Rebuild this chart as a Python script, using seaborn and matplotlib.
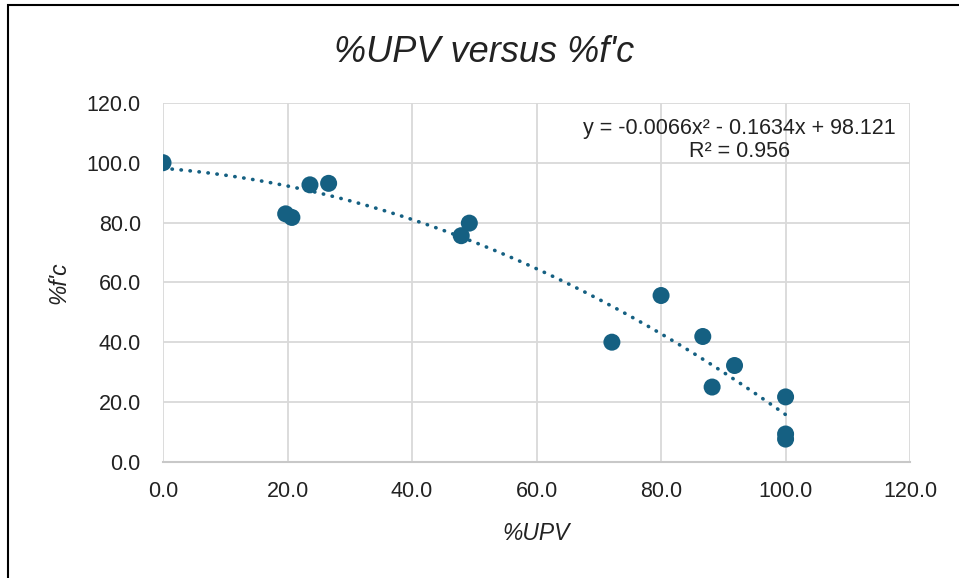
import numpy as np
import pandas as pd
import seaborn as sns
import matplotlib.pyplot as plt
from matplotlib.patches import Rectangle

# values
upv = [0.0, 19.7, 20.7, 23.6, 26.6, 47.9, 49.2, 72.1, 80.0, 86.7, 88.2, 91.8, 100.0, 100.0, 100.0]
fc = [100.0, 82.9, 81.7, 92.6, 93.1, 75.6, 79.8, 40.0, 55.6, 41.9, 25.0, 32.2, 21.7, 9.3, 7.6]

# quadratic trendline as printed on the chart
coef = [-0.0066, -0.1634, 98.121]
r2 = 0.956
ticks = [0, 20, 40, 60, 80, 100, 120]

blue = '#156082'
grid = '#d9d9d9'

sns.set_theme(style='whitegrid')
plt.rcParams['font.family'] = ['Liberation Sans', 'DejaVu Sans']

df = pd.DataFrame({'upv': upv, 'fc': fc})
xs = np.linspace(0, 100, 200)
trend = pd.DataFrame({'x': xs, 'y': np.polyval(coef, xs)})

fig = plt.figure(figsize=(9.59, 5.78), dpi=100)
ax = fig.add_axes([0.170, 0.201, 0.779, 0.621])

sns.lineplot(data=trend, x='x', y='y', ax=ax, color=blue, lw=2.6,
             linestyle=(0, (0.1, 2.4)), dash_capstyle='round', zorder=2)
sns.scatterplot(data=df, x='upv', y='fc', ax=ax, color=blue, s=150,
                edgecolor='none', zorder=3, legend=False)

ax.set_xlim(0, 120)
ax.set_ylim(0, 120)
ax.set_xticks(ticks)
ax.set_yticks(ticks)
ax.set_xticklabels([f'{t:.1f}' for t in ticks])
ax.set_yticklabels([f'{t:.1f}' for t in ticks])
ax.tick_params(axis='both', length=0, labelsize=15.5, labelcolor='#222222')
ax.tick_params(axis='x', pad=14)
ax.tick_params(axis='y', pad=16)
ax.grid(True, color=grid, lw=1.3)
ax.set_axisbelow(True)
for side in ['top', 'right', 'left']:
    ax.spines[side].set_visible(False)
ax.spines['bottom'].set_color('#c8c8c8')
ax.spines['bottom'].set_linewidth(1.5)

ax.set_xlabel('%UPV', fontsize=16.5, style='italic', labelpad=14, color='#222222')
ax.set_ylabel("%f'c", fontsize=16.5, style='italic', labelpad=12, color='#222222')
fig.suptitle("%UPV versus %f'c", fontsize=26, style='italic', y=0.94, x=0.505,
             color='#222222')

eq = f'y = {coef[0]}x² - {abs(coef[1])}x + {coef[2]}\nR² = {r2}'
ax.text(0.771, 0.958, eq, transform=ax.transAxes, ha='center', va='top',
        fontsize=15.5, color='#222222', linespacing=1.1)

fig.patches.append(Rectangle((8 / 959, -0.1), 1.2, 1.1 - 5 / 578, fill=False,
                             ec='black', lw=1.5, transform=fig.transFigure))

fig.savefig('out.png', dpi=100)
